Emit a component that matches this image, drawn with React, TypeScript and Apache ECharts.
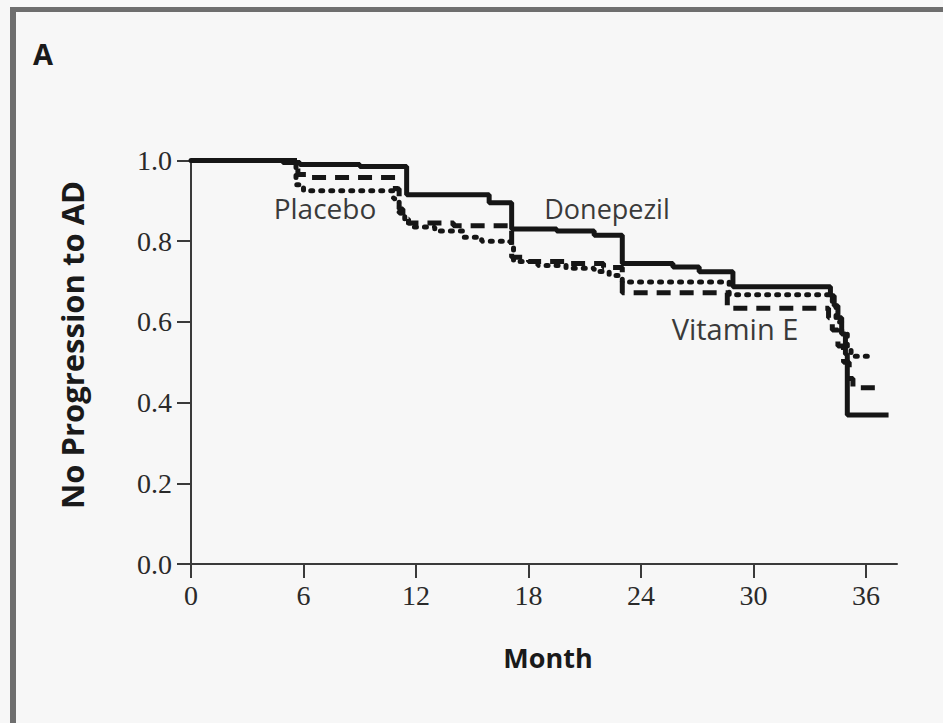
import React, { useEffect, useRef } from "react";
import * as echarts from "echarts";

// Kaplan-Meier style curves: month at which a step starts, and the proportion from then on
const donepezilMonths = [0, 4.9, 5.8, 9.0, 11.5, 15.9, 17.1, 19.5, 21.5, 23.0, 25.7, 27.1, 28.9, 34.1, 34.3, 34.5, 34.7, 34.9, 35.0, 37.2];
const donepezilValues = [1.0, 0.995, 0.99, 0.985, 0.915, 0.895, 0.83, 0.825, 0.815, 0.745, 0.736, 0.724, 0.687, 0.665, 0.64, 0.61, 0.57, 0.52, 0.369, 0.369];

const vitaminEMonths = [0, 5.7, 6.2, 10.9, 11.1, 11.3, 11.6, 14.0, 17.1, 18.0, 20.0, 22.0, 23.0, 28.6, 34.0, 34.2, 34.5, 34.8, 35.1, 35.3, 36.6];
const vitaminEValues = [1.0, 0.965, 0.958, 0.93, 0.88, 0.855, 0.845, 0.838, 0.76, 0.75, 0.745, 0.735, 0.672, 0.634, 0.61, 0.58, 0.54, 0.5, 0.46, 0.437, 0.437];

const placeboMonths = [0, 5.6, 6.0, 10.8, 11.1, 11.4, 11.7, 13.0, 14.5, 15.5, 17.0, 17.2, 18.5, 20.0, 21.5, 22.3, 23.0, 28.7, 34.2, 34.4, 34.7, 35.0, 35.2, 36.3];
const placeboValues = [1.0, 0.94, 0.925, 0.905, 0.87, 0.845, 0.835, 0.825, 0.81, 0.8, 0.797, 0.75, 0.74, 0.733, 0.725, 0.715, 0.699, 0.667, 0.64, 0.6, 0.57, 0.54, 0.515, 0.515];

const xTicks = [0, 6, 12, 18, 24, 30, 36];
const yTicks = [0, 0.2, 0.4, 0.6, 0.8, 1.0];

const seriesNames = ["Donepezil", "Vitamin E", "Placebo"];
const xAxisTitle = "Month";
const yAxisTitle = "No Progression to AD";
const panelLabel = "A";

const pair = (xs: number[], ys: number[]) => xs.map((x, i) => [x, ys[i]]);

export default function App() {
  const ref = useRef<HTMLDivElement>(null);
  useEffect(() => {
    if (!ref.current) return;
    const chart = echarts.init(ref.current, null, { renderer: "svg" });
    const ink = "#161616";
    const sans = "'Open Sans', 'Noto Sans', sans-serif";
    const serif = "'Liberation Serif', 'DejaVu Serif', serif";
    chart.setOption({
      animation: false,
      backgroundColor: "#f7f7f7",
      grid: { left: 191, top: 160.5, right: 46, bottom: 159, containLabel: false },
      xAxis: {
        type: "value",
        min: 0,
        max: 37.65,
        interval: 6,
        axisLine: { show: true, lineStyle: { color: "#3a3a3a", width: 2 } },
        axisTick: { show: true, length: 14, lineStyle: { color: "#3a3a3a", width: 2 }, customValues: xTicks },
        axisLabel: {
          customValues: xTicks,
          color: "#2a2a2a",
          fontFamily: serif,
          fontSize: 28,
          margin: 17,
          formatter: (v: number) => String(v),
        },
        splitLine: { show: false },
      },
      yAxis: {
        type: "value",
        min: 0,
        max: 1,
        interval: 0.2,
        axisLine: { show: true, lineStyle: { color: "#3a3a3a", width: 2 } },
        axisTick: { show: true, length: 14, lineStyle: { color: "#3a3a3a", width: 2 }, customValues: yTicks },
        axisLabel: {
          customValues: yTicks,
          color: "#2a2a2a",
          fontFamily: serif,
          fontSize: 28,
          margin: 19,
          formatter: (v: number) => v.toFixed(1),
        },
        splitLine: { show: false },
      },
      series: [
        {
          name: seriesNames[2],
          type: "line",
          step: "end",
          symbol: "none",
          data: pair(placeboMonths, placeboValues),
          lineStyle: { color: ink, width: 5, type: [2, 8], cap: "round" },
        },
        {
          name: seriesNames[1],
          type: "line",
          step: "end",
          symbol: "none",
          data: pair(vitaminEMonths, vitaminEValues),
          lineStyle: { color: ink, width: 5, type: [14, 9] },
        },
        {
          name: seriesNames[0],
          type: "line",
          step: "end",
          symbol: "none",
          data: pair(donepezilMonths, donepezilValues),
          lineStyle: { color: ink, width: 5 },
        },
      ],
      graphic: [
        { type: "rect", shape: { x: 10, y: 7, width: 933, height: 5 }, style: { fill: "#6e6e6e" } },
        { type: "rect", shape: { x: 10, y: 7, width: 6, height: 716 }, style: { fill: "#6e6e6e" } },
        {
          type: "text", x: 43, y: 53,
          style: { text: panelLabel, font: `bold 29px ${sans}`, fill: "#1a1a1a", align: "center", verticalAlign: "middle" },
        },
        {
          type: "text", x: 325, y: 208,
          style: { text: seriesNames[2], font: `28px ${sans}`, fill: "#3a3a3a", align: "center", verticalAlign: "middle" },
        },
        {
          type: "text", x: 607, y: 208,
          style: { text: seriesNames[0], font: `27px ${sans}`, fill: "#3a3a3a", align: "center", verticalAlign: "middle" },
        },
        {
          type: "text", x: 735, y: 328,
          style: { text: seriesNames[1], font: `29px ${sans}`, fill: "#3a3a3a", align: "center", verticalAlign: "middle" },
        },
        {
          type: "text", x: 548, y: 657,
          style: { text: xAxisTitle, font: `bold 27px ${sans}`, fill: "#1a1a1a", align: "center", verticalAlign: "middle" },
        },
        {
          type: "text", x: 72, y: 345, rotation: Math.PI / 2,
          style: { text: yAxisTitle, font: `bold 31px ${sans}`, fill: "#1a1a1a", align: "center", verticalAlign: "middle" },
        },
      ],
    });
    return () => chart.dispose();
  }, []);
  return <div ref={ref} style={{ position: "fixed", left: 0, top: 0, width: 943, height: 723 }} />;
}
